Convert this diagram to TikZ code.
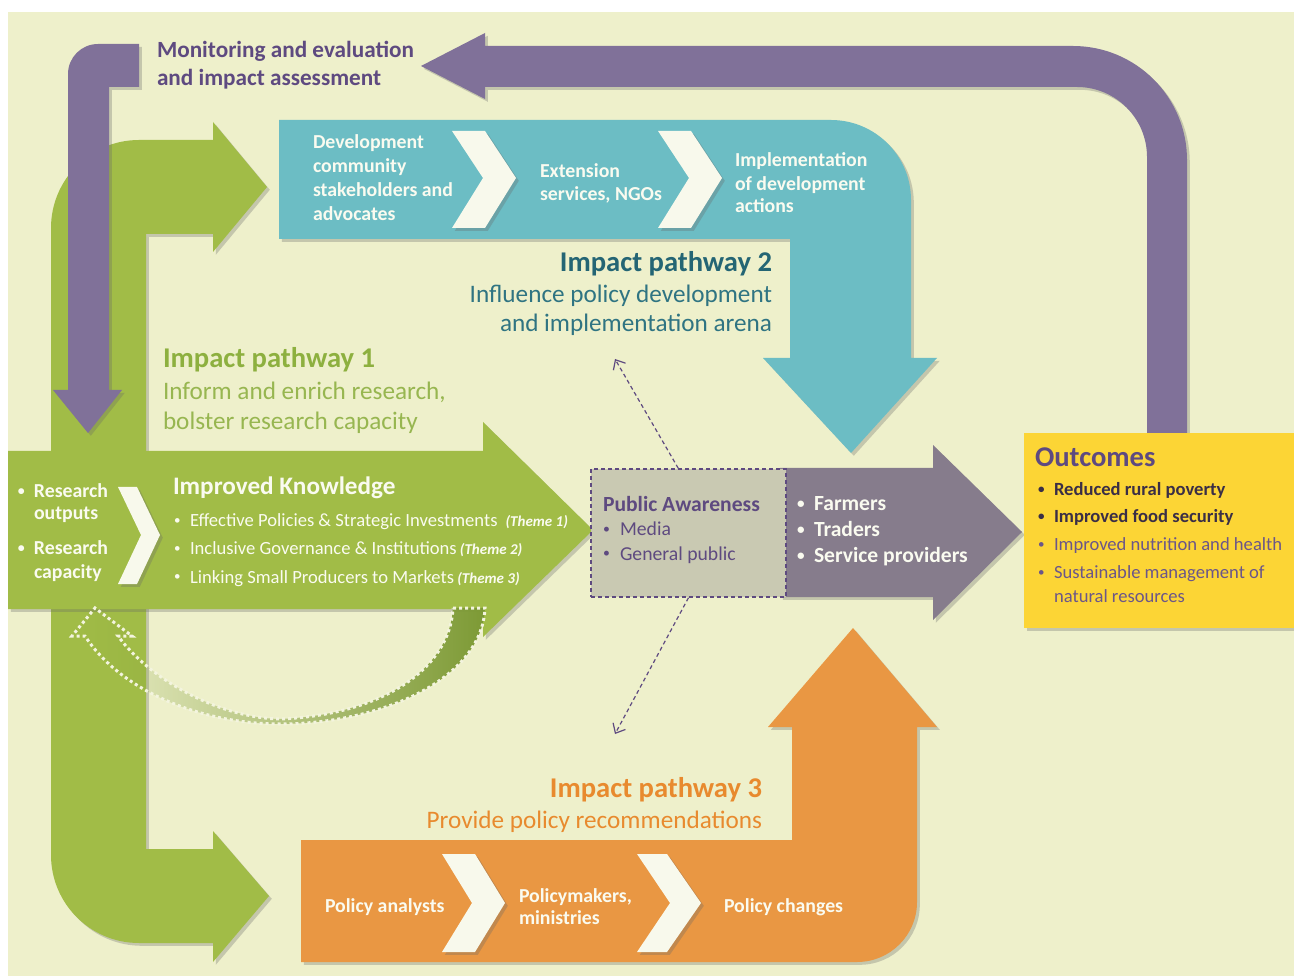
\documentclass[tikz,border=0pt]{standalone}
\usepackage{fontspec}
\setmainfont{Carlito}
\usetikzlibrary{arrows.meta,shadows,fadings}
\definecolor{bg}{HTML}{EEF0CB}
\definecolor{grn}{HTML}{A1BC47}
\definecolor{grnd}{HTML}{7D9A35}
\definecolor{ponet}{HTML}{8DB03F}
\definecolor{pones}{HTML}{97B650}
\definecolor{tealc}{HTML}{6CBDC4}
\definecolor{ptwot}{HTML}{246574}
\definecolor{ptwos}{HTML}{2F7482}
\definecolor{orng}{HTML}{E99743}
\definecolor{pthree}{HTML}{E88A2E}
\definecolor{mpur}{HTML}{807199}
\definecolor{txtpur}{HTML}{5E4A80}
\definecolor{gpur}{HTML}{867C8C}
\definecolor{pafill}{HTML}{C9C9B2}
\definecolor{yel}{HTML}{FCD535}
\definecolor{outdark}{HTML}{3A2E46}
\definecolor{outpur}{HTML}{6B5689}
\definecolor{chevc}{HTML}{F8F9EC}
\definecolor{wtxt}{HTML}{FAFBF0}
\definecolor{dotc}{HTML}{F3F4DE}
\tikzfading[name=fadeleft, left color=transparent!100, middle color=transparent!85, right color=transparent!0]
\newcommand{\fsz}[1]{\fontsize{#1}{#1}\selectfont}
\newcommand{\bul}[1]{\makebox[#1][l]{\raisebox{0.12em}{\scalebox{0.7}{•}}}}
\begin{document}
\begin{tikzpicture}[x=0.5pt,y=-0.5pt,
  t/.style={inner sep=0pt,outer sep=0pt,anchor=base west},
  te/.style={inner sep=0pt,outer sep=0pt,anchor=base east},
  shd/.style={drop shadow={shadow xshift=1.4pt,shadow yshift=-1.4pt,opacity=0.3,fill=black!60}},
  chev/.style={fill=chevc,shd},
  metxt/.style={t,font=\fsz{11.6}\bfseries,text=txtpur},
  boxtxt/.style={t,font=\fsz{9.9}\bfseries,text=wtxt},
  ttl/.style={font=\fsz{14.3}\bfseries},
  sub/.style={font=\fsz{12.6}},
  ktxt/.style={t,font=\fsz{9.3},text=wtxt},
  patxt/.style={t,font=\fsz{9.85},text=txtpur},
  ftxt/.style={t,font=\fsz{10.8}\bfseries,text=wtxt},
  otxtb/.style={t,font=\fsz{9.3}\bfseries,text=outdark},
  otxt/.style={t,font=\fsz{9.3},text=outpur},
  dsh/.style={draw=txtpur,line width=0.6pt,dash pattern=on 2pt off 1.5pt,-{Straight Barb[length=4pt,width=7pt]}},
  dots/.style={draw=dotc,line width=1.5pt,dash pattern=on 1.5pt off 1.5pt}
]
\useasboundingbox (0,0) rectangle (1294,977);
\fill[white] (0,0) rectangle (1294,977);
\fill[bg] (8,12) rectangle (1294,976);

% green pathway 1
\fill[grn,shd] (213,122) -- (267,187) -- (213,252) -- (213,234) -- (146,234) -- (146,849) -- (213,849) -- (213,831) -- (269,896) -- (213,962) -- (213,943) -- (139,943) arc[start angle=90,end angle=180,radius=88] -- (51,228) arc[start angle=180,end angle=270,radius=88] -- (213,140) -- cycle;
\fill[grn,shd] (8,451) -- (483,451) -- (483,422) -- (593,530) -- (483,637) -- (483,609) -- (8,609) -- cycle;

% feedback curved arrow
\draw[dots,preaction={fill=grnd,path fading=fadeleft}] (453,608) -- (485,608) .. controls (482,680) and (380,724) .. (280,724) .. controls (200,724) and (120,690) .. (85,636) -- (72,636) -- (95,608) -- (132,636) -- (118,636) .. controls (150,680) and (220,718) .. (280,719) .. controls (380,715) and (450,670) .. (453,608) -- cycle;

% teal pathway 2
\fill[tealc,shd] (279,120) -- (831,120) arc[start angle=-90,end angle=0,radius=80] -- (911,358) -- (937,358) -- (851,453) -- (763,358) -- (790,358) -- (790,239) -- (279,239) -- cycle;

% orange pathway 3
\fill[orng,shd] (301,840) -- (792,840) -- (792,727) -- (768,727) -- (853,628) -- (937,727) -- (917,727) -- (917,902) arc[start angle=0,end angle=90,radius=60] -- (301,962) -- cycle;

% grey-purple arrow
\fill[gpur,shd] (780,468) -- (933,468) -- (933,445) -- (1022,532) -- (933,620) -- (933,597) -- (780,597) -- cycle;

% M&E purple arrows
\fill[mpur,shd] (421,66) -- (485,33) -- (485,46) -- (1073,46) arc[start angle=-90,end angle=0,radius=114] -- (1187,440) -- (1147,440) -- (1147,157) arc[start angle=0,end angle=-90,radius=70] -- (485,87) -- (485,99) -- cycle;
\fill[mpur,shd] (139,44) -- (98,44) arc[start angle=-90,end angle=-180,radius=30] -- (68,390) -- (53,390) -- (88,433) -- (122,390) -- (109,390) -- (109,87) -- (139,87) -- cycle;

% chevrons
\fill[chev] (118,487) -- (137,487) -- (160,535) -- (137,584) -- (118,584) -- (141,535) -- cycle;
\fill[chev] (452,131) -- (485,131) -- (516,178) -- (485,228) -- (452,228) -- (483,178) -- cycle;
\fill[chev] (658,131) -- (691,131) -- (722,178) -- (691,228) -- (658,228) -- (689,178) -- cycle;
\fill[chev] (442,854) -- (475,854) -- (505,903) -- (475,952) -- (442,952) -- (472,903) -- cycle;
\fill[chev] (637,854) -- (667,854) -- (701,903) -- (667,952) -- (637,952) -- (670,903) -- cycle;

% boxes
\node[fill=pafill,draw=txtpur,line width=0.7pt,dash pattern=on 2pt off 1.5pt,minimum width=97.5pt,minimum height=64pt,inner sep=0pt] (pa) at (688.5,533) {};
\node[fill=yel,shd,minimum width=135pt,minimum height=97.5pt,inner sep=0pt] (out) at (1159,530.5) {};

% dashed arrows
\coordinate (uT) at (615,359);
\coordinate (dT) at (615,734);
\draw[dsh] (pa.99) -- (uT);
\draw[dsh] (pa.south) -- (dT);

% texts
\node[metxt] (me1) at (157,58) {Monitoring and evaluation};
\node[metxt] (me2) at (157,86) {and impact assessment};

\node[boxtxt] (d1) at (313,149) {Development};
\node[boxtxt] (d2) at (313,173) {community};
\node[boxtxt] (d3) at (313,197) {stakeholders and};
\node[boxtxt] (d4) at (313,221) {advocates};
\node[boxtxt] (e1) at (540,178) {Extension};
\node[boxtxt] (e2) at (540,201) {services, NGOs};
\node[boxtxt] (i1) at (735,167) {Implementation};
\node[boxtxt] (i2) at (735,191) {of development};
\node[boxtxt] (i3) at (735,213) {actions};

\node[te,ttl,text=ptwot] (p2a) at (772,272) {Impact pathway 2};
\node[te,sub,text=ptwos] (p2b) at (772,303) {Influence policy development};
\node[te,sub,text=ptwos] (p2c) at (772,332) {and implementation arena};

\node[t,ttl,text=ponet] (p1a) at (163,368) {Impact pathway 1};
\node[t,sub,text=pones] (p1b) at (163,400) {Inform and enrich research,};
\node[t,sub,text=pones] (p1c) at (163,430) {bolster research capacity};

\node[boxtxt] (r1) at (18,498) {\bul{8pt}Research};
\node[boxtxt] (r2) at (34,520) {outputs};
\node[boxtxt] (r3) at (18,555) {\bul{8pt}Research};
\node[boxtxt] (r4) at (34,579) {capacity};

\node[t,font=\fsz{12.6}\bfseries,text=wtxt] (ik) at (173,495) {Improved Knowledge};
\node[ktxt] (k1) at (174,527) {\bul{8pt}Effective Policies \& Strategic Investments\hspace{4pt}{\fsz{7.5}\bfseries\itshape(Theme 1)}};
\node[ktxt] (k2) at (174,555) {\bul{8pt}Inclusive Governance \& Institutions\,{\fsz{7.5}\bfseries\itshape(Theme 2)}};
\node[ktxt] (k3) at (174,583) {\bul{8pt}Linking Small Producers to Markets\,{\fsz{7.5}\bfseries\itshape(Theme 3)}};

\node[t,font=\fsz{10.8}\bfseries,text=txtpur] (pa1) at (603,512) {Public Awareness};
\node[patxt] (pa2) at (603,536) {\bul{8.5pt}Media};
\node[patxt] (pa3) at (603,560) {\bul{8.5pt}General public};

\node[ftxt] (f1) at (797,511) {\bul{8.5pt}Farmers};
\node[ftxt] (f2) at (797,537) {\bul{8.5pt}Traders};
\node[ftxt] (f3) at (797,563) {\bul{8.5pt}Service providers};

\node[t,font=\fsz{14.3}\bfseries,text=txtpur] (o0) at (1035,467) {Outcomes};
\node[otxtb] (o1) at (1038,496) {\bul{8pt}Reduced rural poverty};
\node[otxtb] (o2) at (1038,523) {\bul{8pt}Improved food security};
\node[otxt] (o3) at (1038,551) {\bul{8pt}Improved nutrition and health};
\node[otxt] (o4) at (1038,579) {\bul{8pt}Sustainable management of};
\node[otxt] (o5) at (1054,603) {natural resources};

\node[te,ttl,text=pthree] (p3a) at (762,797) {Impact pathway 3};
\node[te,sub,text=pthree] (p3b) at (762,828) {Provide policy recommendations};

\node[boxtxt] (pl) at (325,912) {Policy analysts};
\node[boxtxt] (pm1) at (519,902) {Policymakers,};
\node[boxtxt] (pm2) at (519,924) {ministries};
\node[boxtxt] (pc) at (724,912) {Policy changes};
\end{tikzpicture}
\end{document}
